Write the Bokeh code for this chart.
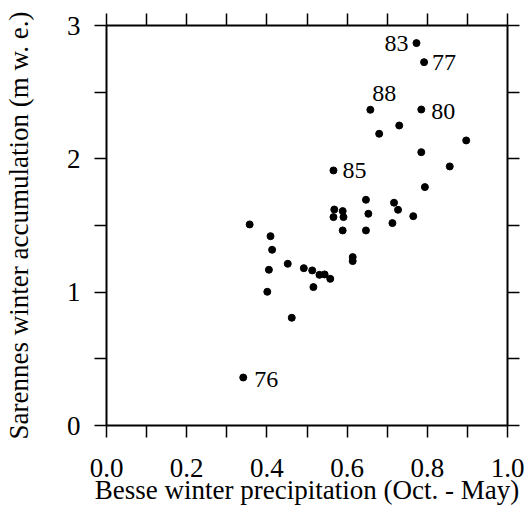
from bokeh.plotting import figure
from bokeh.models import LinearAxis, FixedTicker, ColumnDataSource, PrintfTickFormatter
from bokeh.core.properties import value
from bokeh.embed import file_html
from bokeh.resources import INLINE

# Besse winter precipitation (Oct.-May) vs Sarennes winter accumulation (m w.e.)
precip = [0.773, 0.792, 0.658, 0.785, 0.730, 0.680, 0.897, 0.785, 0.856, 0.566,
          0.794, 0.357, 0.409, 0.413, 0.405, 0.452, 0.492, 0.513, 0.531, 0.544,
          0.558, 0.516, 0.401, 0.568, 0.589, 0.566, 0.591, 0.589, 0.647, 0.653,
          0.647, 0.614, 0.614, 0.717, 0.727, 0.713, 0.765, 0.462, 0.341]
accum = [2.868, 2.725, 2.368, 2.370, 2.250, 2.188, 2.138, 2.050, 1.943, 1.913,
         1.788, 1.508, 1.420, 1.318, 1.168, 1.213, 1.180, 1.163, 1.130, 1.133,
         1.100, 1.038, 1.003, 1.620, 1.608, 1.563, 1.563, 1.463, 1.693, 1.588,
         1.463, 1.263, 1.233, 1.671, 1.618, 1.518, 1.570, 0.808, 0.360]
years = ["83", "77", "88", "80", "", "", "", "", "", "85",
         "", "", "", "", "", "", "", "", "", "",
         "", "", "", "", "", "", "", "", "", "",
         "", "", "", "", "", "", "", "", "76"]

x_major = [0.0, 0.2, 0.4, 0.6, 0.8, 1.0]
x_minor = [0.1, 0.3, 0.5, 0.7, 0.9]
x_all = [0.0, 0.1, 0.2, 0.3, 0.4, 0.5, 0.6, 0.7, 0.8, 0.9, 1.0]
y_major = [0, 1, 2, 3]
y_minor = [0.5, 1.5, 2.5]
y_all = [0, 0.5, 1, 1.5, 2, 2.5, 3]

FONT = "'Liberation Serif', 'Times New Roman', serif"

p = figure(width=528, height=511, x_range=(0, 1), y_range=(0, 3),
           output_backend="svg", toolbar_location=None,
           min_border_left=105, min_border_right=21,
           min_border_top=25, min_border_bottom=86)
p.grid.visible = False
p.outline_line_color = None
p.background_fill_color = "white"
p.border_fill_color = "white"

def style(ax):
    ax.axis_line_color = "black"
    ax.axis_line_width = 2
    ax.major_tick_line_color = "black"
    ax.minor_tick_line_color = "black"
    ax.major_tick_line_width = 1.5
    ax.minor_tick_line_width = 1.5
    ax.major_tick_out = 12
    ax.major_tick_in = 0
    ax.minor_tick_out = 12
    ax.minor_tick_in = 0
    ax.major_label_text_font = FONT
    ax.major_label_text_font_size = "27px"
    ax.major_label_text_color = "black"
    ax.axis_label_text_font = FONT
    ax.axis_label_text_font_size = "27px"
    ax.axis_label_text_font_style = "normal"
    ax.axis_label_text_color = "black"

xb = p.xaxis[0]
xb.ticker = FixedTicker(ticks=x_major, minor_ticks=x_minor)
xb.formatter = PrintfTickFormatter(format="%.1f")
style(xb)
xb.major_label_standoff = 21
xb.axis_label = "Besse winter precipitation (Oct. - May)"
xb.axis_label_standoff = -5

yl = p.yaxis[0]
yl.ticker = FixedTicker(ticks=y_major, minor_ticks=y_minor)
style(yl)
yl.major_label_standoff = 14
yl.major_label_orientation = "horizontal"
yl.axis_label = "Sarennes winter accumulation (m w. e.)"
yl.axis_label_standoff = 30

# mirrored, unlabelled tick axes on top and right
xt = LinearAxis(ticker=FixedTicker(ticks=x_all, minor_ticks=[]))
style(xt)
xt.minor_tick_line_color = None
xt.major_label_text_color = None
xt.major_label_standoff = 0
p.add_layout(xt, "above")

yr = LinearAxis(ticker=FixedTicker(ticks=y_all, minor_ticks=[]))
style(yr)
yr.minor_tick_line_color = None
yr.major_label_text_color = None
yr.major_label_standoff = 0
p.add_layout(yr, "right")

src = ColumnDataSource(dict(x=precip, y=accum, lab=years))
p.scatter("x", "y", source=src, size=7, color="black")

# year labels
def label_at(i, align, dx, dy):
    s = ColumnDataSource(dict(x=[precip[i]], y=[accum[i]], t=[years[i]]))
    p.text("x", "y", text="t", source=s, text_align=align, text_baseline="middle",
           x_offset=dx, y_offset=dy, text_font=value(FONT),
           text_font_size="24px", text_color="black")

label_at(0, "right", -8, 0)
label_at(1, "left", 8, 0)
label_at(2, "left", 2, -16)
label_at(3, "left", 10, 2)
label_at(9, "left", 9, 0)
label_at(38, "left", 11, 2)

open("out.html", "w").write(file_html(p, INLINE))
